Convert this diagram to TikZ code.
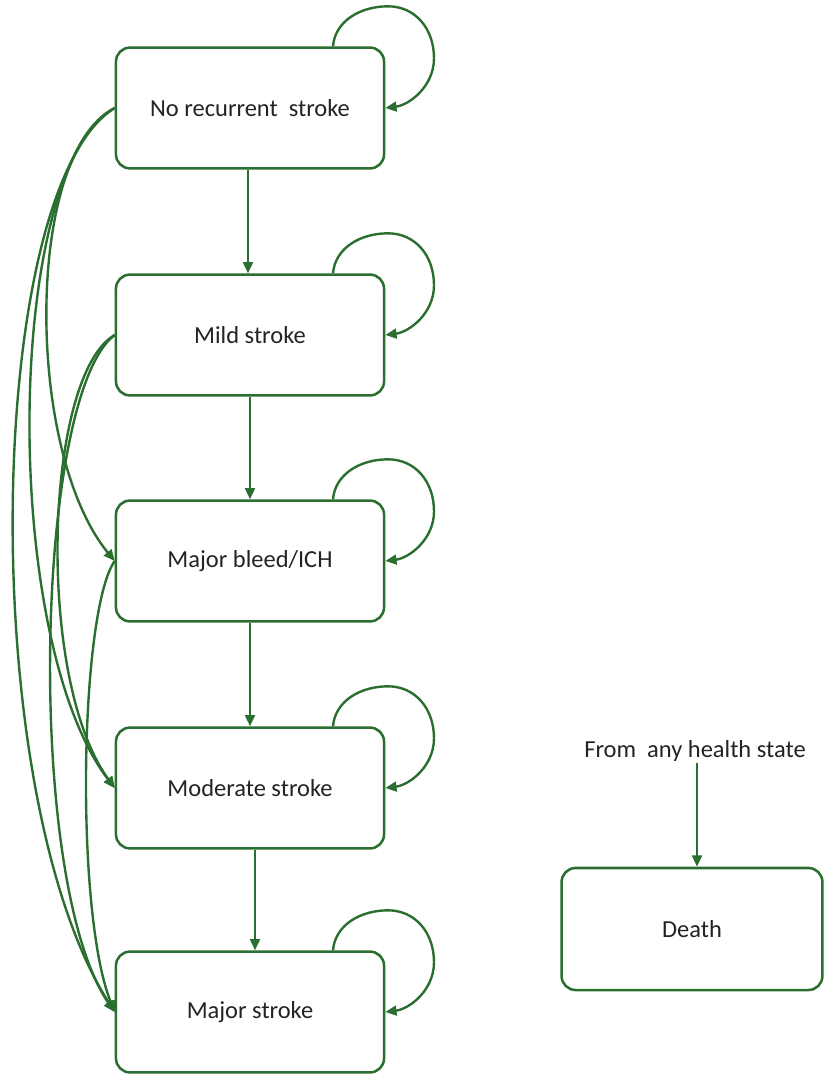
\documentclass[tikz,border=0pt]{standalone}
\usepackage{fontspec}
\setmainfont{Carlito}
\usetikzlibrary{calc,arrows.meta}
\definecolor{linegreen}{RGB}{42,110,48}
\definecolor{textgrey}{RGB}{35,35,35}
\newcommand\selfloop[1]{%
  \draw[arr] ($(#1.north)+(83,0)$)
    .. controls +(2,-25) and +(-28,0) .. ++(55,-40)
    .. controls +(27,0) and +(0,-30) .. ++(46,52)
    .. controls +(0,28) and +(24,-3) .. (#1.east);}
\begin{document}
\begin{tikzpicture}[x=0.025cm,y=-0.025cm,
  state/.style={draw=linegreen, line width=1.8pt, rounded corners=10pt,
    minimum width=6.7cm, minimum height=3.02cm, inner sep=0pt,
    text=textgrey, font=\fontsize{17.4}{20}\selectfont},
  label/.style={text=textgrey, inner sep=1pt, font=\fontsize{17.4}{20}\selectfont},
  arr/.style={draw=linegreen, line width=1.7pt,
    -{Triangle[length=8pt,width=7pt]}}]
\useasboundingbox (0,0) rectangle (824,1076);

% health states
\node[state] (b1) at (250,108) {No recurrent\ \ stroke};
\node[state] (b2) at (250,335) {Mild stroke};
\node[state] (b3) at (250,561) {Major bleed/ICH};
\node[state] (b4) at (250,788) {Moderate stroke};
\node[state] (b5) at (250,1012) {Major stroke};
\node[state, minimum width=6.52cm, minimum height=3.05cm] (death) at (692,929) {Death};
\node[label] (any) at (695,751) {From\ \ any health state};

% progression down the column
\draw[arr] ($(b1.south)+(-2,0)$) -- ($(b2.north)+(-2,0)$);
\draw[arr] (b2.south) -- (b3.north);
\draw[arr] (b3.south) -- (b4.north);
\draw[arr] ($(b4.south)+(5,0)$) -- ($(b5.north)+(5,0)$);
\draw[arr] ($(any.south)+(2,0)$) -- ($(death.north)+(5,0)$);

% staying in the same state
\selfloop{b1}
\selfloop{b2}
\selfloop{b3}
\selfloop{b4}
\selfloop{b5}

% skipping states, on the left
\draw[arr] (b1.west) .. controls +(-90,45) and +(-90,-110) .. (b3.west);
\draw[arr] (b1.west) .. controls +(-110,60) and +(-115,-150) .. (b4.west);
\draw[arr] (b1.west) .. controls +(-130,80) and +(-140,-220) .. (b5.west);
\draw[arr] (b2.west) .. controls +(-70,40) and +(-80,-110) .. (b4.west);
\draw[arr] (b2.west) .. controls +(-80,60) and +(-90,-130) .. (b5.west);
\draw[arr] (b3.west) .. controls +(-35,50) and +(-40,-100) .. (b5.west);
\end{tikzpicture}
\end{document}
